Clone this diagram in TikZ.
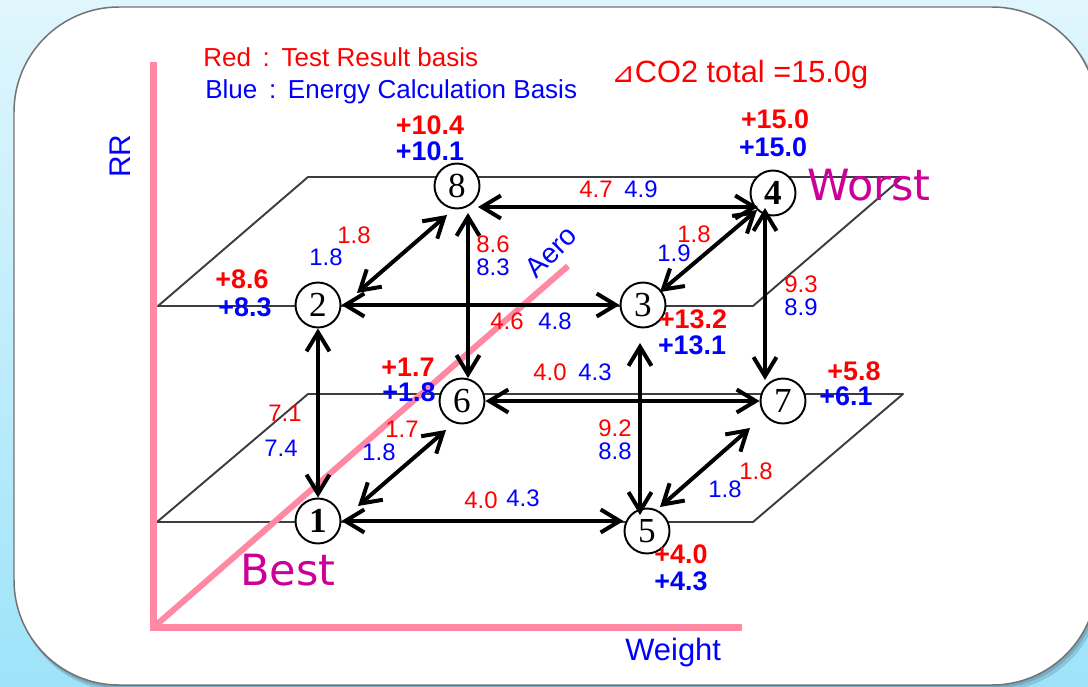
\documentclass[tikz,border=0pt]{standalone}
\usepackage{fontspec}
\setmainfont{Liberation Sans}
\newfontfamily\numfont{Liberation Serif}
\newfontfamily\symfont{DejaVu Sans}
\usepackage{xcolor}
\usetikzlibrary{arrows.meta, calc}

\definecolor{axispink}{RGB}{255,136,163}
\definecolor{bestmag}{RGB}{204,0,153}
\definecolor{planegray}{RGB}{58,62,66}
\definecolor{bgtop}{RGB}{224,246,253}
\definecolor{bgbot}{RGB}{158,227,250}

\begin{document}
\begin{tikzpicture}[
    x=0.02cm, y=-0.02cm,
    caseno/.style={draw, circle, fill=white, line width=1.1pt, minimum size=0.9cm, inner sep=0pt, font=\numfont\fontsize{20}{20}\selectfont},
    pathway/.style={draw, <->, >={Straight Barb[length=0.38cm, width=0.46cm]}, line width=0.08cm},
    plane/.style={draw=planegray, line width=1.1pt, line join=round},
    axisline/.style={draw=axispink, line width=0.14cm},
    gapr/.style={inner sep=0pt, text=red, font=\fontsize{13.6}{16}\selectfont},
    gapb/.style={inner sep=0pt, text=blue, font=\fontsize{13.6}{16}\selectfont},
    sumr/.style={inner sep=0pt, text=red, font=\bfseries\fontsize{15.3}{18}\selectfont},
    sumb/.style={inner sep=0pt, text=blue, font=\bfseries\fontsize{15.3}{18}\selectfont},
    corner/.style={inner sep=0pt, text=bestmag, font=\symfont\fontsize{24.5}{28}\selectfont}
]
    % background and card
    \clip (0,0) rectangle (1088,686);
    \shade[top color=bgtop, bottom color=bgbot] (0,0) rectangle (1088,686);
    \fill[black!55!cyan, opacity=0.25, rounded corners=2.1cm] (17,11) rectangle (1101,691);
    \fill[black!55!cyan, opacity=0.3, rounded corners=2.1cm] (15,9) rectangle (1099,688);
    \draw[draw=black!55, line width=0.85pt, fill=white, rounded corners=2.1cm] (14,7) rectangle (1097,685);

    % two planes
    \draw[plane] (158,306) -- (308,177) -- (903,177) -- (753,306) -- cycle;
    \draw[plane] (157,522) -- (308,394) -- (903,394) -- (753,522) -- cycle;

    % axes
    \draw[axisline] (153.5,62) -- (153.5,627) -- (742,627);
    \draw[axispink, line width=0.12cm] (155,626) -- (568,266);

    % cases
    \node[caseno] (n1) at (318,521) {\textbf{1}};
    \node[caseno] (n2) at (318,305) {2};
    \node[caseno] (n3) at (643,305) {3};
    \node[caseno] (n4) at (773,193) {\textbf{4}};
    \node[caseno] (n5) at (647,531) {5};
    \node[caseno] (n6) at (462,401) {6};
    \node[caseno] (n7) at (783,401) {7};
    \node[caseno] (n8) at (457,186) {8};

    % arrows
    \draw[pathway] (n2) -- (n1);
    \draw[pathway] (n1.east) -- (n1.east -| n5.west);
    \draw[pathway] (n2) -- (n3);
    \draw[pathway] (n6) -- (n7);
    \draw[pathway] ($(n8)+(21,21)$) -- ($(n4)+(-15,14)$);
    \draw[pathway] ($(n8)+(11,27)$) -- ($(n6)+(6,-23)$);
    \draw[pathway] ($(n3)+(-3,38)$) -- ($(n5)+(-7,-16)$);
    \draw[pathway] ($(n4)+(-8,15)$) -- ($(n7)+(-18,-21)$);
    \draw[pathway] ($(n2)+(39,-12)$) -- ($(n8)+(-10,29)$);
    \draw[pathway] ($(n3)+(17,-13)$) -- ($(n4)+(-16,17)$);
    \draw[pathway] ($(n1)+(40,-15)$) -- ($(n6)+(-16,29)$);
    \draw[pathway] ($(n5)+(13,-24)$) -- ($(n7)+(-33,27)$);

    % upper plane values
    \node[gapr] (g28r) at (354,235) {1.8};
    \node[gapb] (g28b) at (326,257) {1.8};
    \node[gapr] (g84r) at (596,189) {4.7};
    \node[gapb] (g84b) at (641,189) {4.9};
    \node[gapr] (g86r) at (493,244) {8.6};
    \node[gapb] (g86b) at (493,267) {8.3};
    \node[gapr] (g23r) at (507,321) {4.6};
    \node[gapb] (g23b) at (555,321) {4.8};
    \node[gapr] (g34r) at (694,234) {1.8};
    \node[gapb] (g34b) at (674,253) {1.9};
    \node[gapr] (g47r) at (801,284) {9.3};
    \node[gapb] (g47b) at (801,307) {8.9};

    % lower plane values
    \node[gapr] (g12r) at (285,413) {7.1};
    \node[gapb] (g12b) at (281,448) {7.4};
    \node[gapr] (g16r) at (402,429) {1.7};
    \node[gapb] (g16b) at (379,452) {1.8};
    \node[gapr] (g67r) at (550,372) {4.0};
    \node[gapb] (g67b) at (595,372) {4.3};
    \node[gapr] (g15r) at (481,500) {4.0};
    \node[gapb] (g15b) at (523,498) {4.3};
    \node[gapr] (g35r) at (615,428) {9.2};
    \node[gapb] (g35b) at (615,451) {8.8};
    \node[gapr] (g57r) at (756,471) {1.8};
    \node[gapb] (g57b) at (725,489) {1.8};

    % totals per case
    \node[sumr] (s8r) at (430,125) {+10.4};
    \node[sumb] (s8b) at (430,151) {+10.1};
    \node[sumr] (s4r) at (775,119) {+15.0};
    \node[sumb] (s4b) at (773,147) {+15.0};
    \node[sumr] (s2r) at (242,279) {+8.6};
    \node[sumb] (s2b) at (245,307) {+8.3};
    \node[sumr] (s3r) at (693,319) {+13.2};
    \node[sumb] (s3b) at (692,345) {+13.1};
    \node[sumr] (s6r) at (408,367) {+1.7};
    \node[sumb] (s6b) at (409,392) {+1.8};
    \node[sumr] (s7r) at (854,371) {+5.8};
    \node[sumb] (s7b) at (846,396) {+6.1};
    \node[sumr] (s5r) at (681,554) {+4.0};
    \node[sumb] (s5b) at (681,581) {+4.3};

    % legend and titles
    \node[anchor=base west, inner sep=0pt, text=red, font=\fontsize{14.8}{17}\selectfont] (keyred) at (203,67) {Red\hspace{0.45em}:\hspace{0.45em}Test Result basis};
    \node[anchor=base west, inner sep=0pt, text=blue, font=\fontsize{14.8}{17}\selectfont] (keyblue) at (205,98) {Blue\hspace{0.45em}:\hspace{0.45em}Energy Calculation Basis};
    \node[anchor=base west, inner sep=0pt, text=red, font=\fontsize{17.5}{20}\selectfont] (co2) at (611,83) {{\symfont\fontsize{16}{18}\selectfont ⊿}CO2 total =15.0g};
    \node[inner sep=0pt, text=blue, rotate=90, font=\fontsize{17}{20}\selectfont] (rr) at (120,156) {RR};
    \node[anchor=base west, inner sep=0pt, text=blue, font=\fontsize{17.6}{20}\selectfont] (wt) at (625,660) {Weight};
    \node[inner sep=0pt, text=blue, rotate=45, font=\fontsize{16}{19}\selectfont] (aero) at (551,252) {Aero};
    \node[corner, anchor=base west] (best) at (240,585) {Best};
    \node[corner, anchor=base west] (worst) at (807,200) {Worst};
\end{tikzpicture}
\end{document}
